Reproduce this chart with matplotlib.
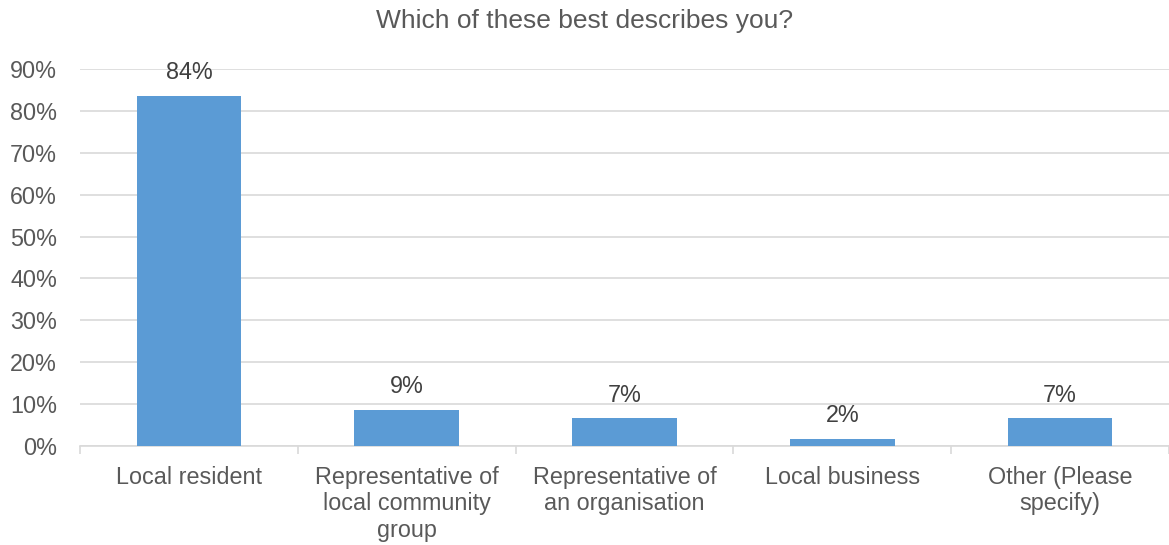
import matplotlib

matplotlib.use("Agg")

import matplotlib.pyplot as plt
import numpy as np
from matplotlib.ticker import FixedLocator, PercentFormatter

categories = [
    "Local resident",
    "Representative of\nlocal community\ngroup",
    "Representative of\nan organisation",
    "Local business",
    "Other (Please\nspecify)",
]
values = [83.6, 8.6, 6.6, 1.6, 6.6]
y_ticks = [0, 10, 20, 30, 40, 50, 60, 70, 80, 90]

BAR_COLOR = "#5B9BD5"
GRID_COLOR = "#D9D9D9"
TICK_TEXT = "#595959"
LABEL_TEXT = "#404040"
FS = 16.8

plt.rcParams["font.family"] = ["Liberation Sans", "DejaVu Sans"]

fig = plt.figure(figsize=(11.69, 5.45), dpi=100)
ax = fig.add_axes([80 / 1169, (545 - 446) / 545, 1089 / 1169, (446 - 69) / 545])

x = np.arange(len(categories))
bars = ax.bar(x, values, width=0.48, color=BAR_COLOR, zorder=3)

for rect, val in zip(bars, values):
    ax.annotate(
        f"{round(val):d}%",
        (rect.get_x() + rect.get_width() / 2, rect.get_height()),
        xytext=(0, 8.5),
        textcoords="offset points",
        ha="center",
        va="bottom",
        fontsize=FS,
        color=LABEL_TEXT,
    )

ax.set_xlim(-0.5, len(categories) - 0.5)
ax.set_ylim(0, 90)
ax.yaxis.set_major_locator(FixedLocator(y_ticks))
ax.yaxis.set_major_formatter(PercentFormatter(decimals=0))
ax.grid(axis="y", color=GRID_COLOR, linewidth=1.2, zorder=0)
ax.tick_params(axis="y", length=0, pad=16.5, labelsize=FS, labelcolor=TICK_TEXT)

# category labels at centres, separator ticks at boundaries
ax.set_xticks(x)
ax.set_xticklabels(categories, fontsize=FS, color=TICK_TEXT, linespacing=1.18)
ax.tick_params(axis="x", which="major", length=0, pad=14.5)
ax.set_xticks(np.arange(-0.5, len(categories)), minor=True)
ax.tick_params(axis="x", which="minor", length=6, color=GRID_COLOR, width=1.2)

for side in ("top", "right", "left"):
    ax.spines[side].set_visible(False)
ax.spines["bottom"].set_color(GRID_COLOR)
ax.spines["bottom"].set_linewidth(1.2)

fig.text(0.5, 1 - 21 / 545, "Which of these best describes you?", ha="center", va="center",
         fontsize=19, color=TICK_TEXT)

fig.savefig("out.png", dpi=100)
